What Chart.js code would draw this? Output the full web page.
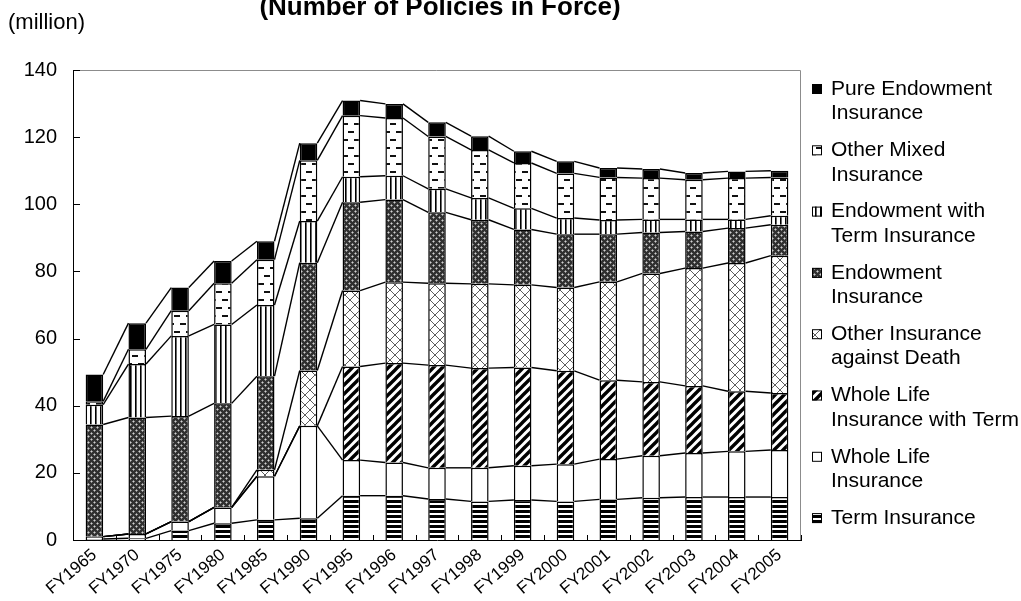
<!DOCTYPE html>
<html>
<head>
<meta charset="utf-8">
<script src="https://cdn.jsdelivr.net/npm/chart.js@4.4.0/dist/chart.umd.min.js"></script>
<style>
  html, body { margin: 0; padding: 0; background: #fff; overflow: hidden; }
  #wrap { position: relative; width: 1021px; height: 601px; }
</style>
</head>
<body>
<div id="wrap"><canvas id="c" width="1021" height="601"></canvas></div>
<script>
// Policies in force by product type, in millions of policies
const categories = ['FY1965', 'FY1970', 'FY1975', 'FY1980', 'FY1985', 'FY1990', 'FY1995', 'FY1996',
  'FY1997', 'FY1998', 'FY1999', 'FY2000', 'FY2001', 'FY2002', 'FY2003', 'FY2004', 'FY2005'];

const termInsurance      = [0.3, 0.5, 2.8, 5.0, 6.0, 6.5, 13.2, 13.2, 12.2, 11.5, 11.9, 11.5, 12.1, 12.6, 12.8, 12.8, 12.8];
const wholeLife          = [0.7, 1.3, 2.7, 4.7, 13.0, 27.5, 10.6, 9.9, 9.3, 10.0, 10.2, 11.1, 12.0, 12.5, 13.1, 13.6, 14.0];
const wholeLifeWithTerm  = [0, 0, 0, 0, 0, 0, 27.9, 29.6, 30.6, 29.7, 29.3, 27.8, 23.5, 22.0, 20.0, 17.9, 17.0];
const otherDeath         = [0, 0, 0, 0, 1.9, 16.5, 22.6, 24.1, 24.4, 25.1, 24.6, 24.8, 29.3, 32.3, 35.1, 38.2, 40.9];
const endowment          = [33.4, 34.7, 31.4, 31.0, 27.9, 32.1, 26.3, 24.6, 21.1, 19.1, 16.5, 15.9, 14.2, 12.2, 10.9, 10.4, 9.2];
const endowmentWithTerm  = [5.9, 15.9, 23.9, 23.5, 21.2, 12.4, 7.6, 7.1, 7.0, 6.5, 6.3, 4.8, 4.2, 3.9, 3.6, 2.6, 2.7];
const otherMixed         = [1.0, 4.4, 7.5, 12.3, 13.5, 18.1, 18.2, 17.2, 15.6, 14.3, 13.5, 13.3, 12.7, 12.3, 11.8, 12.3, 11.4];
const pureEndowment      = [8.0, 7.8, 6.9, 6.6, 5.5, 5.1, 4.5, 4.2, 4.2, 4.1, 3.5, 3.6, 2.8, 2.7, 2.0, 2.0, 2.0];

const yTicks = [0, 20, 40, 60, 80, 100, 120, 140];

const seriesNames = [
  ['Term Insurance'],
  ['Whole Life', 'Insurance'],
  ['Whole Life', 'Insurance with Term'],
  ['Other Insurance', 'against Death'],
  ['Endowment', 'Insurance'],
  ['Endowment with', 'Term Insurance'],
  ['Other Mixed', 'Insurance'],
  ['Pure Endowment', 'Insurance']
];
const seriesValues = [termInsurance, wholeLife, wholeLifeWithTerm, otherDeath,
  endowment, endowmentWithTerm, otherMixed, pureEndowment];

const FONT = "'Liberation Sans', Arial, sans-serif";
const canvas = document.getElementById('c');
const ctx = canvas.getContext('2d');

// ---- monochrome fill patterns ----
function makePattern(w, h, draw) {
  const t = document.createElement('canvas');
  t.width = w; t.height = h;
  const g = t.getContext('2d');
  g.fillStyle = '#fff';
  g.fillRect(0, 0, w, h);
  draw(g, w, h);
  return ctx.createPattern(t, 'repeat');
}

const fills = [
  // horizontal bands
  makePattern(4, 5, (g, w) => { g.fillStyle = '#000'; g.fillRect(0, 0, w, 3); }),
  // plain white
  '#ffffff',
  // wide diagonal stripes
  makePattern(9, 9, (g) => {
    g.strokeStyle = '#000'; g.lineWidth = 3.4;
    [[0, 9, 9, 0], [-3, 3, 3, -3], [6, 12, 12, 6]].forEach(s => {
      g.beginPath(); g.moveTo(s[0], s[1]); g.lineTo(s[2], s[3]); g.stroke();
    });
  }),
  // diagonal lattice
  makePattern(10, 10, (g) => {
    g.strokeStyle = '#5e5e5e'; g.lineWidth = 1;
    g.beginPath(); g.moveTo(0, 0); g.lineTo(10, 10); g.stroke();
    g.beginPath(); g.moveTo(0, 10); g.lineTo(10, 0); g.stroke();
  }),
  // dark dotted grid
  makePattern(6, 6, (g) => {
    g.fillStyle = '#303030'; g.fillRect(0, 0, 6, 6);
    g.fillStyle = '#8a8a8a';
    [[1, 0], [0, 1], [2, 1], [1, 2], [4, 3], [3, 4], [5, 4], [4, 5]].forEach(p => g.fillRect(p[0], p[1], 1, 1));
    g.fillStyle = '#d0d0d0';
    g.fillRect(1, 1, 1, 1); g.fillRect(4, 4, 1, 1);
  }),
  // vertical lines
  makePattern(5, 4, (g, w, h) => {
    g.fillStyle = '#000'; g.fillRect(0, 0, 1, h);
    g.fillStyle = '#666'; g.fillRect(1, 0, 1, h);
  }),
  // staggered short dashes
  makePattern(12, 16, (g) => {
    g.fillStyle = '#111';
    g.fillRect(0, 3, 6, 2);
    g.fillRect(6, 11, 6, 2);
  }),
  // solid black
  '#000000'
];

const datasets = seriesValues.map((vals, i) => ({
  label: seriesNames[i].join(' '),
  data: vals,
  backgroundColor: fills[i],
  borderColor: '#000',
  borderWidth: 1.5,
  borderSkipped: 'start',
  categoryPercentage: 1.0,
  barPercentage: 0.41
}));

// connecting lines between the tops of each stacked segment
const seriesLines = {
  id: 'seriesLines',
  afterDatasetsDraw(chart) {
    const c = chart.ctx;
    c.save();
    c.strokeStyle = '#000';
    c.lineWidth = 1.4;
    chart.data.datasets.forEach((ds, d) => {
      const meta = chart.getDatasetMeta(d);
      for (let i = 0; i < meta.data.length - 1; i++) {
        const a = meta.data[i], b = meta.data[i + 1];
        c.beginPath();
        c.moveTo(a.x + a.width / 2, a.y);
        c.lineTo(b.x - b.width / 2, b.y);
        c.stroke();
      }
    });
    c.restore();
  }
};

// frame, inward tick marks, titles and the side legend
const decorations = {
  id: 'decorations',
  afterDraw(chart) {
    const c = chart.ctx;
    const area = chart.chartArea;
    const ys = chart.scales.y;
    c.save();

    // grey top and right frame
    c.strokeStyle = '#8c8c8c';
    c.lineWidth = 1;
    c.beginPath();
    c.moveTo(area.left, area.top + 0.5);
    c.lineTo(area.right - 0.5, area.top + 0.5);
    c.lineTo(area.right - 0.5, area.bottom);
    c.stroke();

    // inward ticks on the value axis
    c.strokeStyle = '#000';
    yTicks.forEach(v => {
      const y = Math.round(ys.getPixelForValue(v)) + 0.5;
      c.beginPath(); c.moveTo(area.left, y); c.lineTo(area.left + 7, y); c.stroke();
    });
    // inward ticks between categories
    const step = (area.right - area.left) / categories.length;
    for (let i = 0; i <= categories.length; i++) {
      const x = Math.round(area.left + step * i) + 0.5;
      c.beginPath(); c.moveTo(x, area.bottom); c.lineTo(x, area.bottom - 5); c.stroke();
    }

    // title and unit
    c.fillStyle = '#000';
    c.textAlign = 'center';
    c.textBaseline = 'alphabetic';
    c.font = 'bold 26px ' + FONT;
    c.fillText('(Number of Policies in Force)', 440, 15);
    c.textAlign = 'left';
    c.textBaseline = 'middle';
    c.font = '22px ' + FONT;
    c.fillText('(million)', 8, 23);

    // legend, top series first
    const n = chart.data.datasets.length;
    c.font = '21px ' + FONT;
    for (let k = 0; k < n; k++) {
      const d = n - 1 - k;
      const y0 = 89 + 61.3 * k;
      c.fillStyle = fills[d];
      c.fillRect(812, y0 - 5, 10, 10);
      c.strokeStyle = '#000';
      c.lineWidth = 1;
      c.strokeRect(812.5, y0 - 4.5, 9, 9);
      c.fillStyle = '#000';
      seriesNames[d].forEach((line, j) => c.fillText(line, 831, y0 + 24.5 * j));
    }
    c.restore();
  }
};

Chart.defaults.font.family = FONT;
Chart.defaults.color = '#000';

new Chart(canvas, {
  type: 'bar',
  data: { labels: categories, datasets },
  options: {
    responsive: false,
    animation: false,
    devicePixelRatio: 1,
    layout: { padding: { top: 70, right: 220, left: 0, bottom: 0 } },
    plugins: { legend: { display: false }, tooltip: { enabled: false }, title: { display: false } },
    scales: {
      x: {
        stacked: true,
        grid: { display: false, drawTicks: false },
        border: { display: true, color: '#000', width: 1 },
        ticks: { minRotation: 40, maxRotation: 40, autoSkip: false, padding: 5, font: { size: 17 } },
        afterFit(s) { s.height = 61; }
      },
      y: {
        stacked: true,
        min: 0, max: 140,
        grid: { display: false, drawTicks: false },
        border: { display: true, color: '#000', width: 1 },
        ticks: { stepSize: 20, padding: 16, font: { size: 20 } },
        afterFit(s) { s.width = 73; }
      }
    }
  },
  plugins: [seriesLines, decorations]
});
</script>
</body>
</html>
